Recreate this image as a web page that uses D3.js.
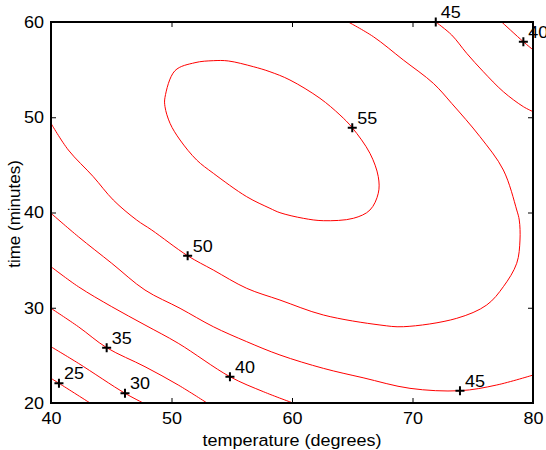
<!DOCTYPE html>
<html>
<head>
<meta charset="utf-8">
<script src="https://cdn.jsdelivr.net/npm/d3@7"></script>
<style>
  html, body { margin: 0; padding: 0; background: #fff; }
  svg { display: block; }
  text { font-family: "Liberation Sans", Arial, sans-serif; fill: #000; }
</style>
</head>
<body>
<svg id="chart" width="546" height="450"></svg>
<script>
// ---- data ----
const xTicks = [40, 50, 60, 70, 80];
const yTicks = [20, 30, 40, 50, 60];
const xLabel = "temperature (degrees)";
const yLabel = "time (minutes)";

// contour lines: [temperature, time] points, one array per line
const contour25 = [[40, 22.59], [40.66, 22.07], [43.24, 20]];
const contour30 = [[40, 25.91], [42.27, 24.17], [46.14, 21.02], [47.66, 20]];
const contour35 = [[40, 29.94], [42.27, 28.01], [44.62, 25.81], [47.80, 23.81], [50.56, 21.89], [52.95, 20]];
const contour40low = [[40, 34.31], [42.27, 32.21], [45.04, 30.11], [47.80, 28.19], [50.56, 26.27], [54.85, 22.76], [57.62, 21.19], [60.08, 20]];
const contour45low = [[40, 39.92], [42.27, 37.46], [45.04, 34.67], [47.80, 31.86], [50.71, 29.94], [53.47, 28.01], [56.24, 26.44], [59.00, 25.04], [62.60, 23.64], [65.9, 22.65], [69.79, 21.54], [73.94, 21.29], [76.99, 21.89], [80.02, 22.94]];
const contour50 = [[40, 49.36], [41.44, 46.56], [43.51, 43.76], [45.17, 41.31], [47.11, 39.21], [48.36, 38.16], [51.34, 35.46], [53.47, 33.96], [56.24, 32.04], [59.00, 30.81], [62.60, 29.24], [67.30, 28.19], [69.24, 28.01], [73.67, 28.89], [76.16, 30.29], [77.54, 32.21], [78.65, 34.67], [78.92, 37.11], [78.86, 39.21], [78.65, 40.26], [77.54, 44.46], [75.60, 47.96], [73.25, 51.46], [71.73, 53.56], [69.24, 56.01], [66.75, 58.46], [64.67, 60]];
const contour45high = [[71.93, 60], [73.25, 58.64], [74.50, 56.71], [75.88, 54.78], [77.54, 52.68], [79.20, 51.11], [80.02, 50.58]];
const contour40high = [[77.40, 60], [79.20, 57.93], [80.02, 57.06]];
const contour55 = [[49.46, 52.09], [49.46, 51.11], [49.88, 49.36], [50.71, 47.61], [52.09, 45.51], [53.47, 44.12], [56.24, 41.66], [58.17, 40.44], [59.00, 39.98], [60.94, 39.39], [62.60, 39.14], [65.09, 39.39], [66.47, 40.26], [67.16, 42.02], [67.16, 43.76], [66.47, 46.21], [65.00, 48.90], [63.98, 50.24], [62.32, 51.99], [59.83, 53.91], [58.17, 54.78], [56.79, 55.31], [54.71, 55.91], [53.47, 55.94], [51.95, 55.73], [50.29, 54.89]];

const openContours = [contour25, contour30, contour35, contour40low, contour45low, contour50, contour45high, contour40high];
const closedContours = [contour55];

// contour labels: value and the point where the "+" sits
const labelValues = ["25", "30", "35", "40", "45", "50", "55", "45", "40"];
const labelX = [40.66, 46.14, 44.62, 54.85, 73.94, 51.34, 65.00, 71.93, 79.20];
const labelY = [22.07, 21.02, 25.81, 22.76, 21.29, 35.46, 48.90, 60.00, 57.93];

// ---- layout ----
const svg = d3.select("#chart");
const m = { left: 51, top: 22, right: 533, bottom: 403 };
const x = d3.scaleLinear().domain([40, 80]).range([m.left, m.right]);
const y = d3.scaleLinear().domain([20, 60]).range([m.bottom, m.top]);
const FS = 17, SX = 1.06;

svg.append("defs").append("clipPath").attr("id", "plotclip")
  .append("rect").attr("x", m.left).attr("y", m.top)
  .attr("width", m.right - m.left).attr("height", m.bottom - m.top);

const plot = svg.append("g").attr("clip-path", "url(#plotclip)");

const line = d3.line().x(d => x(d[0])).y(d => y(d[1])).curve(d3.curveCatmullRom.alpha(0.5));
const lineClosed = d3.line().x(d => x(d[0])).y(d => y(d[1])).curve(d3.curveCatmullRomClosed.alpha(0.5));

plot.selectAll("path.open").data(openContours).join("path")
  .attr("class", "open").attr("d", line)
  .attr("fill", "none").attr("stroke", "#ff0000").attr("stroke-width", 1);
plot.selectAll("path.closed").data(closedContours).join("path")
  .attr("class", "closed").attr("d", lineClosed)
  .attr("fill", "none").attr("stroke", "#ff0000").attr("stroke-width", 1);

// axes (MATLAB style box with inward ticks)
const tickLen = 5;
const axB = svg.append("g").attr("transform", `translate(0,${m.bottom})`)
  .call(d3.axisBottom(x).tickValues(xTicks).tickSize(-tickLen).tickPadding(9).tickFormat(d3.format("d")));
const axT = svg.append("g").attr("transform", `translate(0,${m.top})`)
  .call(d3.axisTop(x).tickValues(xTicks).tickSize(-tickLen).tickFormat(""));
const axL = svg.append("g").attr("transform", `translate(${m.left},0)`)
  .call(d3.axisLeft(y).tickValues(yTicks).tickSize(-tickLen).tickPadding(7).tickFormat(d3.format("d")));
const axR = svg.append("g").attr("transform", `translate(${m.right},0)`)
  .call(d3.axisRight(y).tickValues(yTicks).tickSize(-tickLen).tickFormat(""));

[axB, axT, axL, axR].forEach(a => {
  a.select(".domain").remove();
  a.selectAll(".tick line").attr("stroke", "#000").attr("stroke-width", 1);
  a.selectAll(".tick text").attr("font-size", FS).attr("font-family", "Liberation Sans, Arial, sans-serif").attr("fill", "#000");
});
axB.selectAll(".tick text").attr("dy", "0.71em").attr("transform", `scale(${SX},1)`);
axL.selectAll(".tick text").attr("x", -7 / SX).attr("transform", `scale(${SX},1)`);

svg.append("rect")
  .attr("x", m.left).attr("y", m.top)
  .attr("width", m.right - m.left).attr("height", m.bottom - m.top)
  .attr("fill", "none").attr("stroke", "#000").attr("stroke-width", 2);

// contour labels
const lbl = svg.append("g");
labelValues.forEach((v, i) => {
  const px = x(labelX[i]), py = y(labelY[i]);
  lbl.append("path")
    .attr("d", `M${px - 4.5},${py}H${px + 4.5}M${px},${py - 4.5}V${py + 4.5}`)
    .attr("stroke", "#000").attr("stroke-width", 2);
  lbl.append("g").attr("transform", `translate(${px + 5},${py - 4}) scale(${SX},1)`)
    .append("text").attr("x", 0).attr("y", 0)
    .attr("font-size", FS).text(v);
});

// axis titles
svg.append("g").attr("transform", `translate(${(m.left + m.right) / 2},446) scale(${SX},1)`)
  .append("text").attr("text-anchor", "middle").attr("font-size", FS).text(xLabel);
svg.append("text").attr("transform", `translate(20,214) rotate(-90)`)
  .attr("text-anchor", "middle").attr("font-size", FS).text(yLabel);
</script>
</body>
</html>
